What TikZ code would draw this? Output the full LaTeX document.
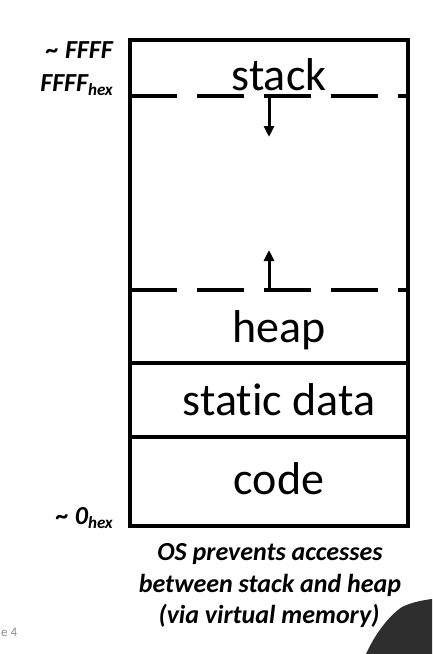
\documentclass[tikz,border=0pt]{standalone}
\usepackage{fontspec}
\setmainfont[Ligatures=NoCommon]{Carlito}
\usetikzlibrary{arrows.meta}
\tikzset{
  wall/.style={line width=4pt, line join=miter},
  sep/.style={line width=4pt},
  dsep/.style={line width=4pt, dash pattern=on 47pt off 20pt},
  growarrow/.style={line width=3pt, -{Triangle[width=10pt,length=11pt]}},
  region/.style={font=\fontsize{46}{46}\selectfont, inner sep=0pt, anchor=base},
  addr/.style={font=\fontsize{26}{26}\selectfont\bfseries\itshape, inner sep=0pt, anchor=base east},
  note/.style={font=\fontsize{26}{26}\selectfont\bfseries\itshape, inner sep=0pt, anchor=base},
}
\newcommand{\hexsub}{\raisebox{-0.35ex}{\fontsize{17}{17}\selectfont hex}}
\begin{document}
\begin{tikzpicture}[x=1pt,y=-1pt]
\useasboundingbox (0,0) rectangle (432,654);
% regions
\draw[wall] (130,40) rectangle (408,526);
\draw[dsep] (130,96) -- (408,96);
\draw[dsep] (130,290) -- (408,290);
\draw[sep] (130,363) -- (408,363);
\draw[sep] (130,437) -- (408,437);
% labels
\node[region] (stack) at (279,90) {stack};
\node[region] (heap) at (279,342) {heap};
\node[region] (static) at (279,415) {static data};
\node[region] (code) at (279,494) {code};
% growth arrows
\coordinate (sA) at (269,96);
\coordinate (sB) at (269,137);
\coordinate (hA) at (269,290);
\coordinate (hB) at (269,250);
\draw[growarrow] (sA) -- (sB);
\draw[growarrow] (hA) -- (hB);
% addresses
\node[addr] (top1) at (113,58) {\textasciitilde\ FFFF};
\node[addr] (top2) at (113,91) {FFFF\hexsub};
\node[addr] (bot) at (113,524) {\textasciitilde\ 0\hexsub};
% note
\node[note] (n1) at (270,560) {OS prevents accesses};
\node[note] (n2) at (270,592) {between stack and heap};
\node[note] (n3) at (269,623) {(via virtual memory)};
% slide number fragment
\node[font=\fontsize{13}{13}\selectfont, text=black!45, inner sep=0pt, anchor=base west] (pg) at (1,636) {e 4};
% dark blob
\fill[black!82] (366,654) .. controls (376,632) and (390,615) .. (402,607)
  .. controls (412,602) and (424,600) .. (432,599) -- (432,654) -- cycle;
\end{tikzpicture}
\end{document}
